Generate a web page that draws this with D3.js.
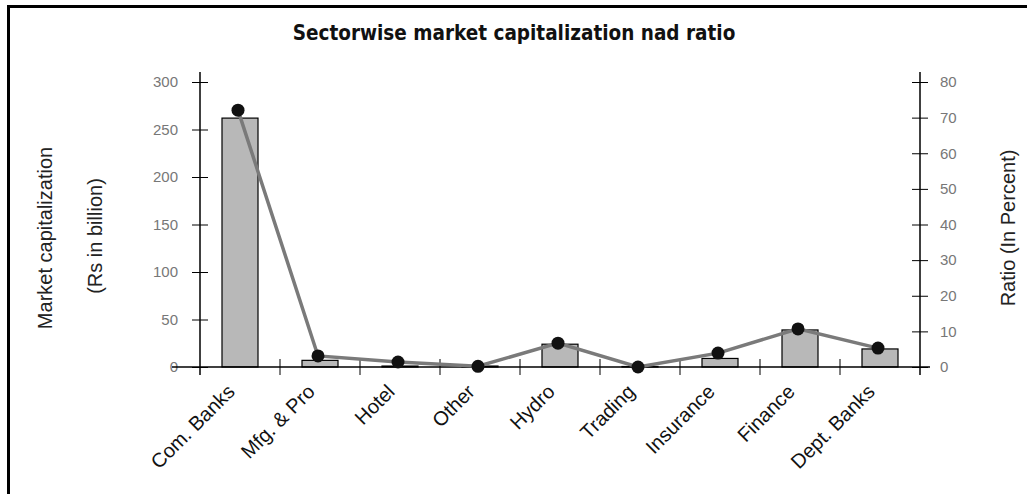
<!DOCTYPE html>
<html><head><meta charset="utf-8">
<script src="https://cdn.jsdelivr.net/npm/d3@7/dist/d3.min.js"></script>
<style>body{margin:0;background:#fff}svg{display:block}</style>
</head><body>
<svg id="c" width="1027" height="494"></svg>
<script>
const categories = ["Com. Banks","Mfg. & Pro","Hotel","Other","Hydro","Trading","Insurance","Finance","Dept. Banks"];
const marketCap = [262, 7, 1, 1, 24, 0.5, 9, 39, 19];
const ratio = [72.1, 3.1, 1.4, 0.2, 6.7, 0, 3.9, 10.7, 5.3];
const leftTicks = [0,50,100,150,200,250,300];
const rightTicks = [0,10,20,30,40,50,60,70,80];

const svg = d3.select("#c");
const font = "'Liberation Sans',Arial,sans-serif";
const condFont = "'DejaVu Sans Condensed','Liberation Sans Narrow',sans-serif";

// frame
svg.append("path").attr("d","M8.5,494 L8.5,6.5 L1027,6.5").attr("fill","none").attr("stroke","#000").attr("stroke-width",3);

const x0 = 200, x1 = 920, yTop = 82, yBot = 367;
const x = d3.scaleBand().domain(categories).range([x0,x1]).paddingInner(0.55).paddingOuter(0.275);
const xb = d3.scaleBand().domain(categories).range([x0,x1]);
const yL = d3.scaleLinear().domain([0,300]).range([yBot,yTop]);
const yR = d3.scaleLinear().domain([0,80]).range([yBot,yTop]);

// title
svg.append("text").attr("x",514).attr("y",40).attr("text-anchor","middle")
  .attr("font-family",condFont).attr("font-size",20.5).attr("font-weight","bold").attr("fill","#111")
  .text("Sectorwise market capitalization nad ratio");

// bars
svg.append("g").selectAll("rect").data(categories).join("rect")
  .attr("x",d=>x(d)).attr("width",x.bandwidth())
  .attr("y",(d,i)=>yL(marketCap[i])).attr("height",(d,i)=>yBot-yL(marketCap[i]))
  .attr("fill","#b8b8b8").attr("stroke","#000").attr("stroke-width",1.2);

// left axis
const gL = svg.append("g").attr("transform",`translate(${x0},0)`)
  .call(d3.axisLeft(yL).tickValues(leftTicks).tickSize(0).tickPadding(22));
gL.selectAll(".tick").append("line").attr("x1",-8).attr("x2",8).attr("stroke","#000");
gL.select(".domain").attr("d",`M0,${yTop-10}V${yBot+8}`).attr("stroke","#000").attr("stroke-width",1.5);
gL.selectAll("text").attr("font-family",font).attr("font-size",15).attr("fill","#777");

// right axis
const gR = svg.append("g").attr("transform",`translate(${x1},0)`)
  .call(d3.axisRight(yR).tickValues(rightTicks).tickSize(0).tickPadding(20));
gR.selectAll(".tick").append("line").attr("x1",-8).attr("x2",8).attr("stroke","#000");
gR.select(".domain").attr("d",`M0,${yTop-10}V${yBot+8}`).attr("stroke","#000").attr("stroke-width",1.5);
gR.selectAll("text").attr("font-family",font).attr("font-size",15).attr("fill","#777");

// bottom axis
const gB = svg.append("g").attr("transform",`translate(0,${yBot})`);
gB.append("line").attr("x1",x0-28).attr("x2",x1+10).attr("stroke","#000").attr("stroke-width",1.5);
gB.selectAll(".tk").data(categories.slice(1)).join("line")
  .attr("x1",d=>xb(d)).attr("x2",d=>xb(d)).attr("y1",-8).attr("y2",8).attr("stroke","#000");
gB.selectAll(".lbl").data(categories).join("text")
  .attr("transform",d=>`translate(${xb(d)+xb.bandwidth()/2-4},${26}) rotate(-45)`)
  .attr("text-anchor","end").attr("font-family",font).attr("font-size",20).attr("fill","#111").text(d=>d);

// line
const cx = d=>xb(d)+xb.bandwidth()/2-2;
svg.append("path").datum(categories)
  .attr("d",d3.line().x(d=>cx(d)).y((d,i)=>yR(ratio[i])))
  .attr("fill","none").attr("stroke","#7a7a7a").attr("stroke-width",3.5);
svg.append("g").selectAll("circle").data(categories).join("circle")
  .attr("cx",d=>cx(d)).attr("cy",(d,i)=>yR(ratio[i])).attr("r",6.5).attr("fill","#111");

// axis titles
svg.append("text").attr("transform","translate(52,238) rotate(-90)").attr("text-anchor","middle")
  .attr("font-family",font).attr("font-size",20).attr("fill","#222").text("Market capitalization");
svg.append("text").attr("transform","translate(102,236) rotate(-90)").attr("text-anchor","middle")
  .attr("font-family",font).attr("font-size",20).attr("fill","#222").text("(Rs in billion)");
svg.append("text").attr("transform","translate(1015,228) rotate(-90)").attr("text-anchor","middle")
  .attr("font-family",font).attr("font-size",20).attr("fill","#222").text("Ratio (In Percent)");
</script>
</body></html>
